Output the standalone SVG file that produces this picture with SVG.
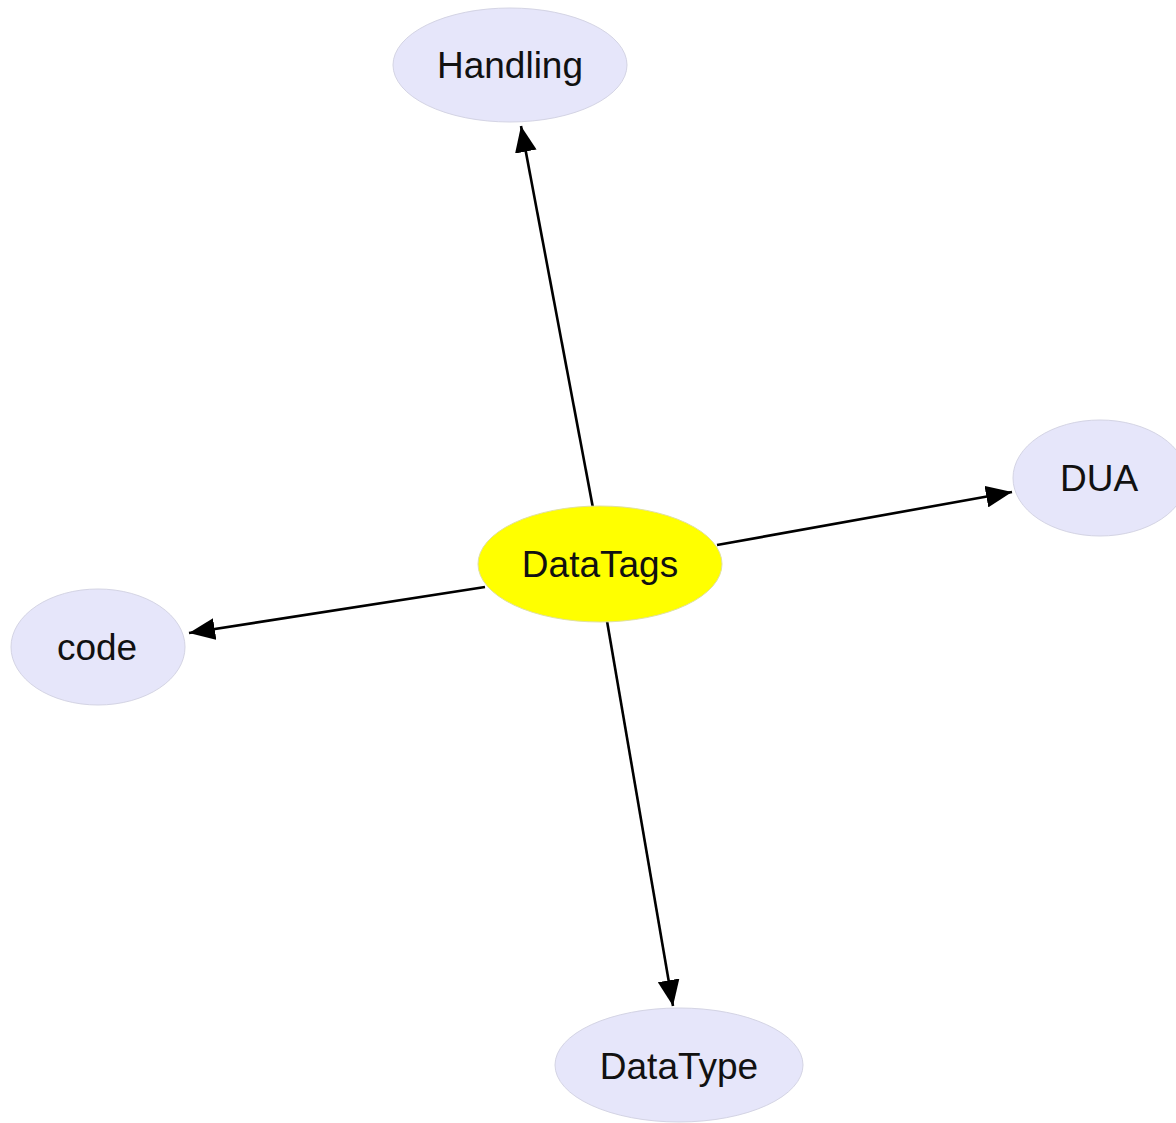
<svg xmlns="http://www.w3.org/2000/svg" width="1176" height="1123" viewBox="0 0 1176 1123">
  <style>
    .node ellipse { fill: #e6e6fa; stroke: #d4d4e4; stroke-width: 1; }
    .center ellipse { fill: #ffff00; stroke: #e0e0a0; stroke-width: 1; }
    .node text { font-family: "Liberation Sans", Arial, sans-serif; font-size: 37px; fill: #111; text-anchor: middle; }
    .edge { stroke: #000; stroke-width: 2.6; fill: none; marker-end: url(#arrow); }
  </style>
  <defs>
    <marker id="arrow" markerWidth="10" markerHeight="8.4" refX="10" refY="4.2" orient="auto" markerUnits="strokeWidth">
      <path d="M0,0 L10,4.2 L0,8.4 Z" fill="#000"/>
    </marker>
  </defs>
  <rect width="1176" height="1123" fill="#ffffff"/>

  <g id="connectors">
    <line class="edge" x1="593" y1="508" x2="521" y2="126"/>
    <line class="edge" x1="717" y1="545" x2="1012" y2="492"/>
    <line class="edge" x1="485" y1="587" x2="189" y2="633"/>
    <line class="edge" x1="607" y1="621" x2="673" y2="1006"/>
  </g>

  <g id="Handling" class="node">
    <ellipse cx="510" cy="65" rx="117" ry="57"/>
    <text x="510" y="78">Handling</text>
  </g>
  <g id="DataTags" class="node center">
    <ellipse cx="600" cy="564" rx="122" ry="58"/>
    <text x="600" y="577">DataTags</text>
  </g>
  <g id="DUA" class="node">
    <ellipse cx="1100" cy="478" rx="87" ry="58"/>
    <text x="1099" y="491">DUA</text>
  </g>
  <g id="code" class="node">
    <ellipse cx="98" cy="647" rx="87" ry="58"/>
    <text x="97" y="660">code</text>
  </g>
  <g id="DataType" class="node">
    <ellipse cx="679" cy="1065" rx="124" ry="57"/>
    <text x="679" y="1079">DataType</text>
  </g>
</svg>
